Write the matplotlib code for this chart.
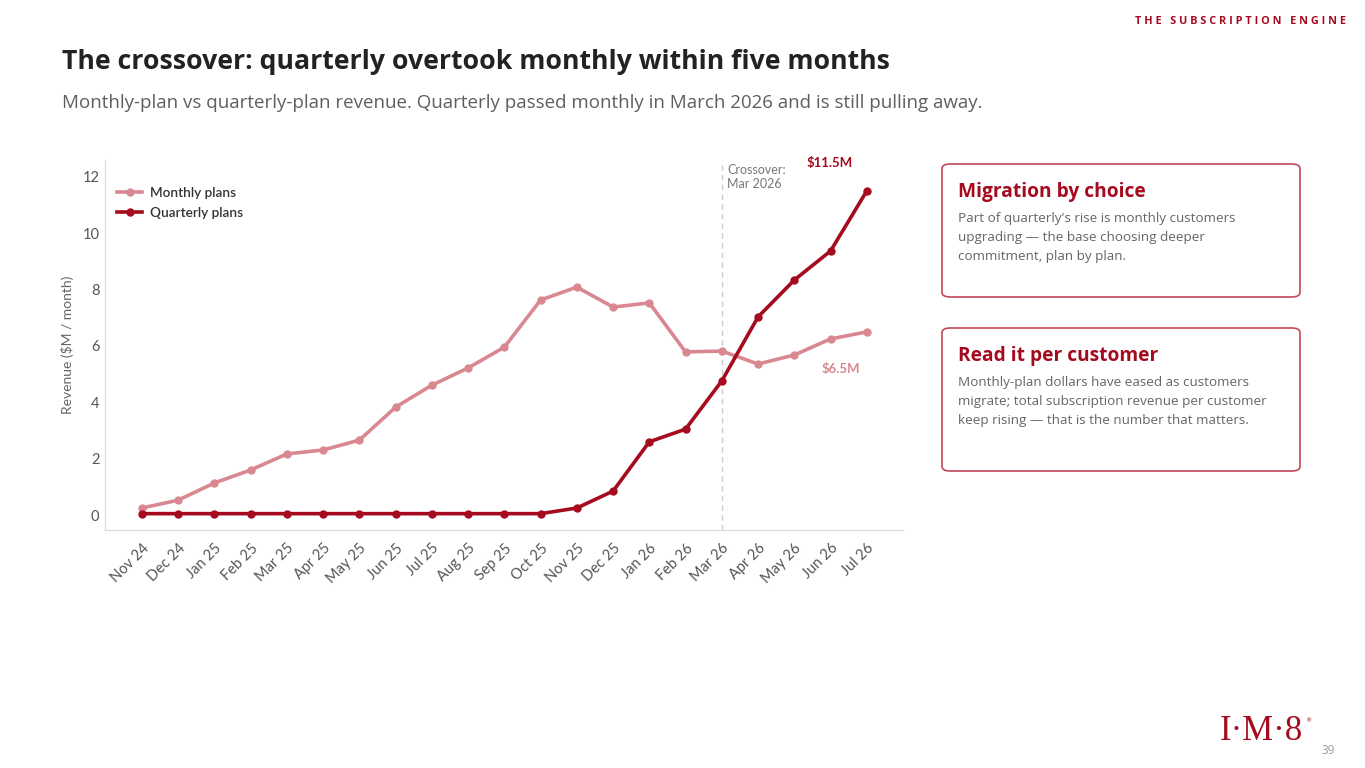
import matplotlib
matplotlib.use('Agg')
import matplotlib.pyplot as plt
from matplotlib.patches import FancyBboxPatch

MONTHS = ['Nov 24', 'Dec 24', 'Jan 25', 'Feb 25', 'Mar 25', 'Apr 25', 'May 25',
          'Jun 25', 'Jul 25', 'Aug 25', 'Sep 25', 'Oct 25', 'Nov 25', 'Dec 25',
          'Jan 26', 'Feb 26', 'Mar 26', 'Apr 26', 'May 26', 'Jun 26', 'Jul 26']
MONTHLY = [0.25, 0.53, 1.14, 1.6, 2.17, 2.31, 2.66, 3.83, 4.61, 5.22, 5.96,
           7.63, 8.09, 7.38, 7.53, 5.79, 5.82, 5.36, 5.68, 6.25, 6.5]
QUARTERLY = [0.05, 0.05, 0.05, 0.05, 0.05, 0.05, 0.05, 0.05, 0.05, 0.05, 0.05,
             0.05, 0.25, 0.85, 2.6, 3.05, 4.76, 7.03, 8.34, 9.37, 11.5]
Y_TICKS = [0, 2, 4, 6, 8, 10, 12]
CROSSOVER_IDX = 16

DARK_RED = '#A50A1E'
PINK = '#D98891'
GRAY = '#5F5F5F'

W, H = 1365, 768

fig = plt.figure(figsize=(W / 100, H / 100), dpi=100)
fig.patch.set_facecolor('white')


def fx(px):
    return px / W


def fy(py):
    return 1 - py / H


# header texts
fig.text(fx(1346), fy(22), 'T H E   S U B S C R I P T I O N   E N G I N E',
         ha='right', va='center', fontsize=7.8, fontweight='bold',
         color=DARK_RED, family='Open Sans')
fig.text(fx(62), fy(62), 'The crossover: quarterly overtook monthly within five months',
         ha='left', va='center', fontsize=19.2, fontweight='bold',
         color='#222222', family='Open Sans')
fig.text(fx(62), fy(103),
         'Monthly-plan vs quarterly-plan revenue. Quarterly passed monthly in March 2026 and is still pulling away.',
         ha='left', va='center', fontsize=13.5, color=GRAY, family='Open Sans')

# chart
ax = fig.add_axes([fx(105), fy(530), fx(903) - fx(105), fy(160) - fy(530)])
x = list(range(len(MONTHS)))
ax.plot(x, MONTHLY, color=PINK, lw=2.6, marker='o', ms=5, label='Monthly plans', zorder=3)
ax.plot(x, QUARTERLY, color=DARK_RED, lw=2.6, marker='o', ms=5, label='Quarterly plans', zorder=4)
ax.axvline(CROSSOVER_IDX, color='#CCCCCC', lw=1, ls=(0, (4, 3)), zorder=1)

ax.set_xlim(-1.02, 21.0)
ax.set_ylim(-0.53, 12.6)
ax.set_yticks(Y_TICKS)
ax.set_xticks(x)
ax.set_xticklabels(MONTHS, rotation=45, ha='right', rotation_mode='anchor')
ax.tick_params(length=0, labelsize=10.5, labelcolor='#555555')
ax.tick_params(axis='y', pad=4)
ax.tick_params(axis='x', pad=8)
for lbl in ax.get_xticklabels() + ax.get_yticklabels():
    lbl.set_family('Lato')
ax.set_ylabel('Revenue ($M / month)', fontsize=10, color='#666666', family='Lato', labelpad=6)
for side in ('top', 'right'):
    ax.spines[side].set_visible(False)
for side in ('left', 'bottom'):
    ax.spines[side].set_color('#DDDDDD')
    ax.spines[side].set_linewidth(1)

leg = ax.legend(loc='upper left', bbox_to_anchor=(0.0, 0.96), frameon=False,
                prop={'family': 'Lato', 'size': 9.8, 'weight': 'semibold'},
                handlelength=1.8, handletextpad=0.6, labelspacing=0.55)
for t in leg.get_texts():
    t.set_color('#333333')

ax.text(CROSSOVER_IDX + 0.15, 12.45, 'Crossover:\nMar 2026', ha='left', va='top',
        fontsize=9, color='#777777', family='Lato', linespacing=1.15)
ax.annotate('$11.5M', (20, QUARTERLY[-1]), xytext=(-27, 20), textcoords='offset points',
            ha='center', va='center', fontsize=9.5, fontweight='bold',
            color=DARK_RED, family='Lato')
ax.annotate('$6.5M', (20, MONTHLY[-1]), xytext=(-19, -26.5), textcoords='offset points',
            ha='center', va='center', fontsize=9.5, fontweight='bold',
            color=PINK, family='Lato')

# side cards
cards = [
    (164, 297, 'Migration by choice',
     "Part of quarterly's rise is monthly customers\nupgrading \u2014 the base choosing deeper\ncommitment, plan by plan."),
    (328, 471, 'Read it per customer',
     'Monthly-plan dollars have eased as customers\nmigrate; total subscription revenue per customer\nkeep rising \u2014 that is the number that matters.'),
]
for top, bottom, head, body in cards:
    box = FancyBboxPatch((fx(942), fy(bottom)), fx(1300) - fx(942), fy(top) - fy(bottom),
                         boxstyle='round,pad=0,rounding_size=0.006',
                         transform=fig.transFigure, facecolor='white',
                         edgecolor='#C2485A', lw=1.2)
    fig.patches.append(box)
    fig.text(fx(958), fy(top + 28), head, ha='left', va='center', fontsize=13.8,
             fontweight='bold', color=DARK_RED, family='Open Sans')
    fig.text(fx(958), fy(top + 48), body, ha='left', va='top', fontsize=9.7,
             color='#666666', family='Open Sans', linespacing=1.62)

# logo and page number
fig.text(fx(1261), fy(731), 'I\u00b7M\u00b78', ha='center', va='center', fontsize=25,
         color=DARK_RED, family='Liberation Serif')
fig.text(fx(1308), fy(721), '\u00ae', ha='center', va='center', fontsize=4.5,
         color=DARK_RED, family='DejaVu Sans')
fig.text(fx(1335), fy(750), '39', ha='right', va='center', fontsize=8.5,
         color='#999999', family='Open Sans')

fig.savefig('out.png', dpi=100, facecolor='white')
